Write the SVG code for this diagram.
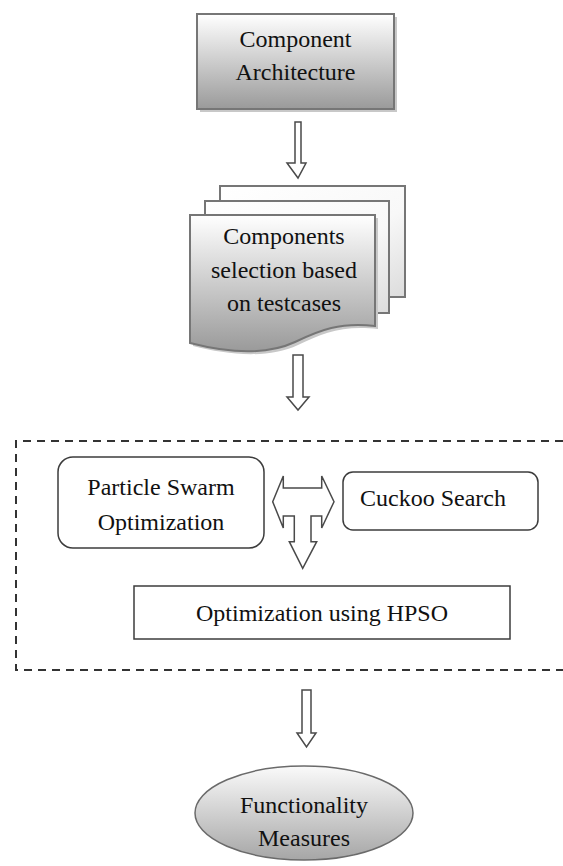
<svg xmlns="http://www.w3.org/2000/svg" width="563" height="866" viewBox="0 0 563 866" font-family="'Liberation Serif', 'Times New Roman', serif">
<defs>
<linearGradient id="gGray" x1="0" y1="0" x2="0" y2="1">
<stop offset="0" stop-color="#ffffff"/>
<stop offset="1" stop-color="#9a9a9a"/>
</linearGradient>
<linearGradient id="gLight" x1="0" y1="0" x2="1" y2="1">
<stop offset="0" stop-color="#ffffff"/>
<stop offset="0.6" stop-color="#f8f8f8"/>
<stop offset="1" stop-color="#dcdcdc"/>
</linearGradient>
<linearGradient id="gEll" x1="0" y1="0" x2="0" y2="1">
<stop offset="0" stop-color="#fafafa"/>
<stop offset="1" stop-color="#a6a6a6"/>
</linearGradient>
</defs>
<style>
text{font-size:24px;fill:#111;text-anchor:middle}
.shadow{fill:#c8c8c8;stroke:none}
.gbox{fill:url(#gGray);stroke:#767676;stroke-width:2}
.page{fill:url(#gLight);stroke:#767676;stroke-width:2}
.plain{fill:#fff;stroke:#3c3c3c;stroke-width:1.5}
.arrow{fill:#fff;stroke:#4a4a4a;stroke-width:1.5;stroke-linejoin:miter}
.dash{fill:none;stroke:#333;stroke-width:2;stroke-dasharray:8 6}
</style>

<g id="component-architecture">
<rect class="shadow" x="200" y="17" width="197" height="95"/>
<rect class="gbox" x="197" y="14" width="197" height="95"/>
<text x="295.5" y="47">Component</text>
<text x="295.5" y="80">Architecture</text>
</g>

<g id="components-selection">
<rect class="page" x="220" y="186" width="185" height="111"/>
<rect class="page" x="205" y="201" width="184" height="112"/>
<path class="shadow" d="M193,218 H378 V329 C343,325 323,333 298,345 C268,359 228,355 193,346 Z"/>
<path class="gbox" d="M190,215 H375 V326 C340,322 320,330 295,342 C265,356 225,352 190,343 Z"/>
<text x="284" y="244">Components</text>
<text x="284" y="278">selection based</text>
<text x="284" y="311">on testcases</text>
</g>

<g id="hybrid-group">
<path class="dash" d="M563,441 H16 V670 H563"/>
</g>

<g id="pso">
<rect class="plain" x="58" y="457" width="206" height="91" rx="15" ry="15"/>
<text x="161" y="495">Particle Swarm</text>
<text x="161" y="530">Optimization</text>
</g>

<g id="cuckoo">
<rect class="plain" x="343" y="472" width="195" height="58" rx="10" ry="10"/>
<text x="433" y="506">Cuckoo Search</text>
</g>

<g id="hpso">
<rect class="plain" x="134" y="586" width="376" height="53"/>
<text x="322" y="621">Optimization using HPSO</text>
</g>

<g id="functionality">
<ellipse cx="304" cy="813" rx="109" ry="47" fill="url(#gEll)" stroke="#6a6a6a" stroke-width="1.5"/>
<text x="304" y="813">Functionality</text>
<text x="304" y="846">Measures</text>
</g>

<g id="connectors">
<polygon class="arrow" points="295,122 301,122 301,163 306,163 298,178 287,163 295,163"/>
<polygon class="arrow" points="293,355 303,355 303,397 309,397 298,410 287,397 293,397"/>
<polygon class="arrow" points="272.7,501.7 283.3,476 283.3,488 321.7,488 321.7,476 334,501.7 321.7,528 321.7,516 311,516 311,541.7 316.7,541.7 302.7,568.3 289.3,541.7 294.3,541.7 294.3,516 283.3,516 283.3,528"/>
<polygon class="arrow" points="302,690 311,690 311,733 316,733 306.5,747 297,733 302,733"/>
</g>
</svg>
